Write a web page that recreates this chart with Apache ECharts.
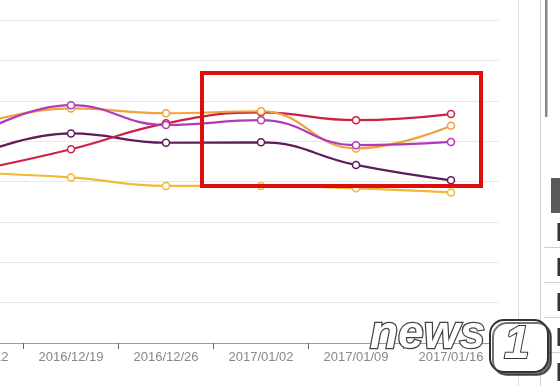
<!DOCTYPE html>
<html>
<head>
<meta charset="utf-8">
<script src="https://cdn.jsdelivr.net/npm/echarts@6/dist/echarts.min.js"></script>
<style>
html,body{margin:0;padding:0;background:#fff;overflow:hidden;width:560px;height:386px;}
#c{position:absolute;left:-72px;top:0;width:632px;height:386px;}
</style>
</head>
<body>
<div id="c"></div>
<script>
var categories = ['2016/12/12','2016/12/19','2016/12/26','2017/01/02','2017/01/09','2017/01/16'];
var seriesOrange  = [54.0, 58.1, 56.9, 57.4, 48.2, 53.8];
var seriesMagenta = [51.5, 58.9, 54.0, 55.2, 49.0, 49.8];
var seriesPurple  = [46.5, 51.9, 49.6, 49.7, 44.1, 40.3];
var seriesRed     = [42.8, 48.0, 54.4, 57.1, 55.2, 56.7];
var seriesYellow  = [42.1, 41.0, 38.9, 38.9, 38.3, 37.3];

var OX = 72; // page x -> chart x offset

function mk(data, color) {
  return {
    type: 'line', data: data, smooth: 0.45,
    symbol: 'circle', symbolSize: 7, showSymbol: true,
    lineStyle: {color: color, width: 2.2},
    itemStyle: {color: '#fff', borderColor: color, borderWidth: 1.5},
    z: 3
  };
}
function L(x1, y1, x2, y2, c) {
  return {type: 'line', shape: {x1: x1 + OX, y1: y1, x2: x2 + OX, y2: y2}, style: {stroke: c, lineWidth: 1}, z: 100};
}
function R(x, y, w, h, c) {
  return {type: 'rect', shape: {x: x + OX, y: y, width: w, height: h}, style: {fill: c}, z: 100};
}

var chart = echarts.init(document.getElementById('c'), null, {renderer: 'canvas'});
chart.setOption({
  animation: false,
  backgroundColor: '#fff',
  grid: {left: 0.5, right: 61.5, top: 20, bottom: 43, containLabel: false},
  xAxis: {
    type: 'category', data: categories, boundaryGap: true,
    axisLine: {lineStyle: {color: '#9a9a9a', width: 1}},
    axisTick: {show: true, length: 6, lineStyle: {color: '#666'}},
    axisLabel: {color: '#888', fontSize: 13, fontFamily: 'Liberation Sans, Arial, sans-serif', margin: 8, interval: 0},
    splitLine: {show: false}
  },
  yAxis: {
    type: 'value', min: 0, max: 80, interval: 10,
    axisLabel: {show: false}, axisLine: {show: false}, axisTick: {show: false},
    splitLine: {lineStyle: {color: '#e8e8e8', width: 1}}
  },
  series: [
    mk(seriesYellow, '#f1b935'),
    mk(seriesPurple, '#5e1c5c'),
    mk(seriesRed, '#cc2047'),
    mk(seriesOrange, '#f0a23c'),
    mk(seriesMagenta, '#b23ab9')
  ],
  graphic: [
    {type: 'rect', shape: {x: 202 + OX, y: 73, width: 279, height: 113}, style: {fill: 'none', stroke: '#e00d0d', lineWidth: 4}, z: 100},
    L(518.5, 0, 518.5, 386, '#dcdcdc'),
    L(540.5, 0, 540.5, 386, '#d0d0d0'),
    R(545, 0, 2.5, 117, '#888'),
    R(551, 178, 9, 35, '#5a5a5a'),
    L(544, 247.5, 560, 247.5, '#cfcfcf'),
    L(544, 282.5, 560, 282.5, '#cfcfcf'),
    L(544, 317.5, 560, 317.5, '#cfcfcf'),
    L(544, 352.5, 560, 352.5, '#cfcfcf'),
    R(557.5, 223, 2.5, 18, '#333'),
    R(557.5, 258, 2.5, 18, '#333'),
    R(557.5, 293, 2.5, 18, '#333'),
    R(557.5, 328, 2.5, 18, '#333'),
    R(557.5, 363, 2.5, 18, '#333'),
    {type: 'text', x: 370 + OX, y: 312, z: 110,
      style: {text: 'news', font: 'italic bold 46px "Liberation Sans", Arial, sans-serif', fill: '#fff', stroke: '#444', lineWidth: 2.5,
        shadowColor: 'rgba(0,0,0,0.5)', shadowOffsetX: 2, shadowOffsetY: 2}},
    {type: 'rect', shape: {x: 490 + OX, y: 320, width: 58, height: 52, r: 14}, z: 110,
      style: {fill: '#fff', stroke: '#333', lineWidth: 2, shadowColor: 'rgba(0,0,0,0.55)', shadowOffsetX: 3, shadowOffsetY: 3}},
    {type: 'text', x: 504 + OX, y: 322, z: 111,
      style: {text: '1', font: 'italic bold 46px "Liberation Sans", Arial, sans-serif', fill: '#fff', stroke: '#333', lineWidth: 2}}
  ]
});
</script>
</body>
</html>
